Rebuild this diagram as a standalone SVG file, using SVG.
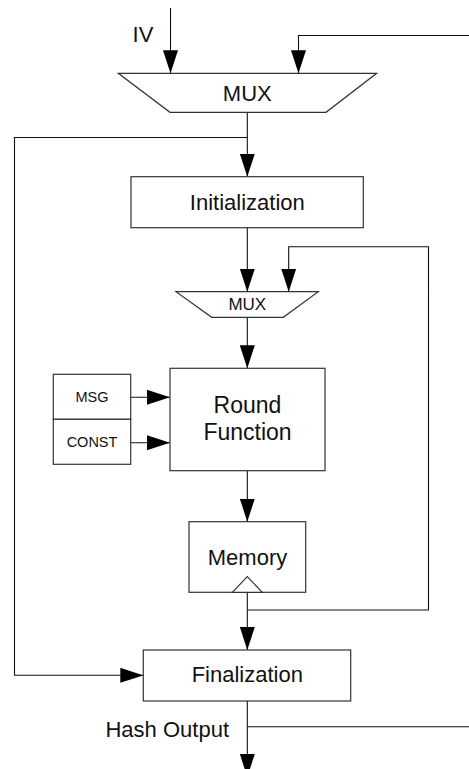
<svg xmlns="http://www.w3.org/2000/svg" width="469" height="769" viewBox="0 0 469 769">
  <style>
    .box { fill: #ffffff; stroke: #333333; stroke-width: 1.2; }
    .wire { fill: none; stroke: #111111; stroke-width: 1.1; }
    .arrow { marker-end: url(#head); }
    text { font-family: "Liberation Sans", Arial, sans-serif; fill: #111111; text-anchor: middle; }
    .lbl { font-size: 22px; }
    .big { font-size: 23px; }
    .mid { font-size: 17px; }
    .small { font-size: 14.5px; }
  </style>
  <defs>
    <marker id="head" markerUnits="userSpaceOnUse" markerWidth="23" markerHeight="15" refX="23" refY="7.5" orient="auto">
      <path d="M0,0 L23,7.5 L0,15 Z" fill="#000000"/>
    </marker>
  </defs>
  <rect width="469" height="769" fill="#ffffff"/>

  <!-- connectors -->
  <g id="connectors">
    <line class="wire arrow" x1="170.5" y1="8" x2="170.5" y2="73.3"/>
    <polyline class="wire arrow" points="469,35.5 298.5,35.5 298.5,73.3"/>
    <line class="wire arrow" x1="247.3" y1="112.3" x2="247.3" y2="176.7"/>
    <polyline class="wire arrow" points="247.3,137.5 14.5,137.5 14.5,675.3 143.3,675.3"/>
    <line class="wire arrow" x1="247.3" y1="227.7" x2="247.3" y2="291.7"/>
    <polyline class="wire arrow" points="247.3,610 428.5,610 428.5,246.7 288.7,246.7 288.7,291.7"/>
    <line class="wire arrow" x1="247.3" y1="317.3" x2="247.3" y2="368.3"/>
    <line class="wire arrow" x1="130.7" y1="397.3" x2="170" y2="397.3"/>
    <line class="wire arrow" x1="130.7" y1="442.7" x2="170" y2="442.7"/>
    <line class="wire arrow" x1="247.3" y1="470.7" x2="247.3" y2="521.7"/>
    <line class="wire arrow" x1="247.3" y1="592.3" x2="247.3" y2="650"/>
    <line class="wire arrow" x1="247.3" y1="701" x2="247.3" y2="777"/>
    <line class="wire" x1="247.3" y1="726.7" x2="469" y2="726.7"/>
  </g>

  <!-- input label -->
  <g id="iv">
    <text class="lbl" x="143" y="41.7">IV</text>
  </g>

  <!-- input select -->
  <g id="mux-top">
    <polygon class="box" points="118.3,73.3 376.7,73.3 326,112.3 170,112.3"/>
    <text class="lbl" x="247.3" y="100.5">MUX</text>
  </g>

  <g id="initialization">
    <rect class="box" x="131" y="176.7" width="232.3" height="51"/>
    <text class="lbl" x="247.3" y="209.5">Initialization</text>
  </g>

  <!-- round input select -->
  <g id="mux-round">
    <polygon class="box" points="176,291.7 318.3,291.7 283.3,317.3 211.7,317.3"/>
    <text class="mid" x="247.3" y="310">MUX</text>
  </g>

  <g id="msg">
    <rect class="box" x="53.3" y="374.3" width="77.4" height="45"/>
    <text class="small" x="92" y="402.3">MSG</text>
  </g>

  <g id="const">
    <rect class="box" x="53.3" y="419.3" width="77.4" height="45"/>
    <text class="small" x="92" y="446.7">CONST</text>
  </g>

  <g id="round-function">
    <rect class="box" x="170" y="368.3" width="155" height="102.4"/>
    <text class="big" x="247.5" y="412.7">Round</text>
    <text class="big" x="247.5" y="440">Function</text>
  </g>

  <g id="memory">
    <rect class="box" x="189" y="521.7" width="116.7" height="70.6"/>
    <polygon class="box" points="232.3,592.3 247.3,576.7 262.3,592.3"/>
    <text class="lbl" x="247.5" y="564.5">Memory</text>
  </g>

  <g id="finalization">
    <rect class="box" x="143.3" y="650" width="207.4" height="51"/>
    <text class="lbl" x="247.3" y="682.3">Finalization</text>
  </g>

  <g id="hash-output">
    <text class="lbl" x="229" y="736.7" style="text-anchor: end">Hash Output</text>
  </g>
</svg>
